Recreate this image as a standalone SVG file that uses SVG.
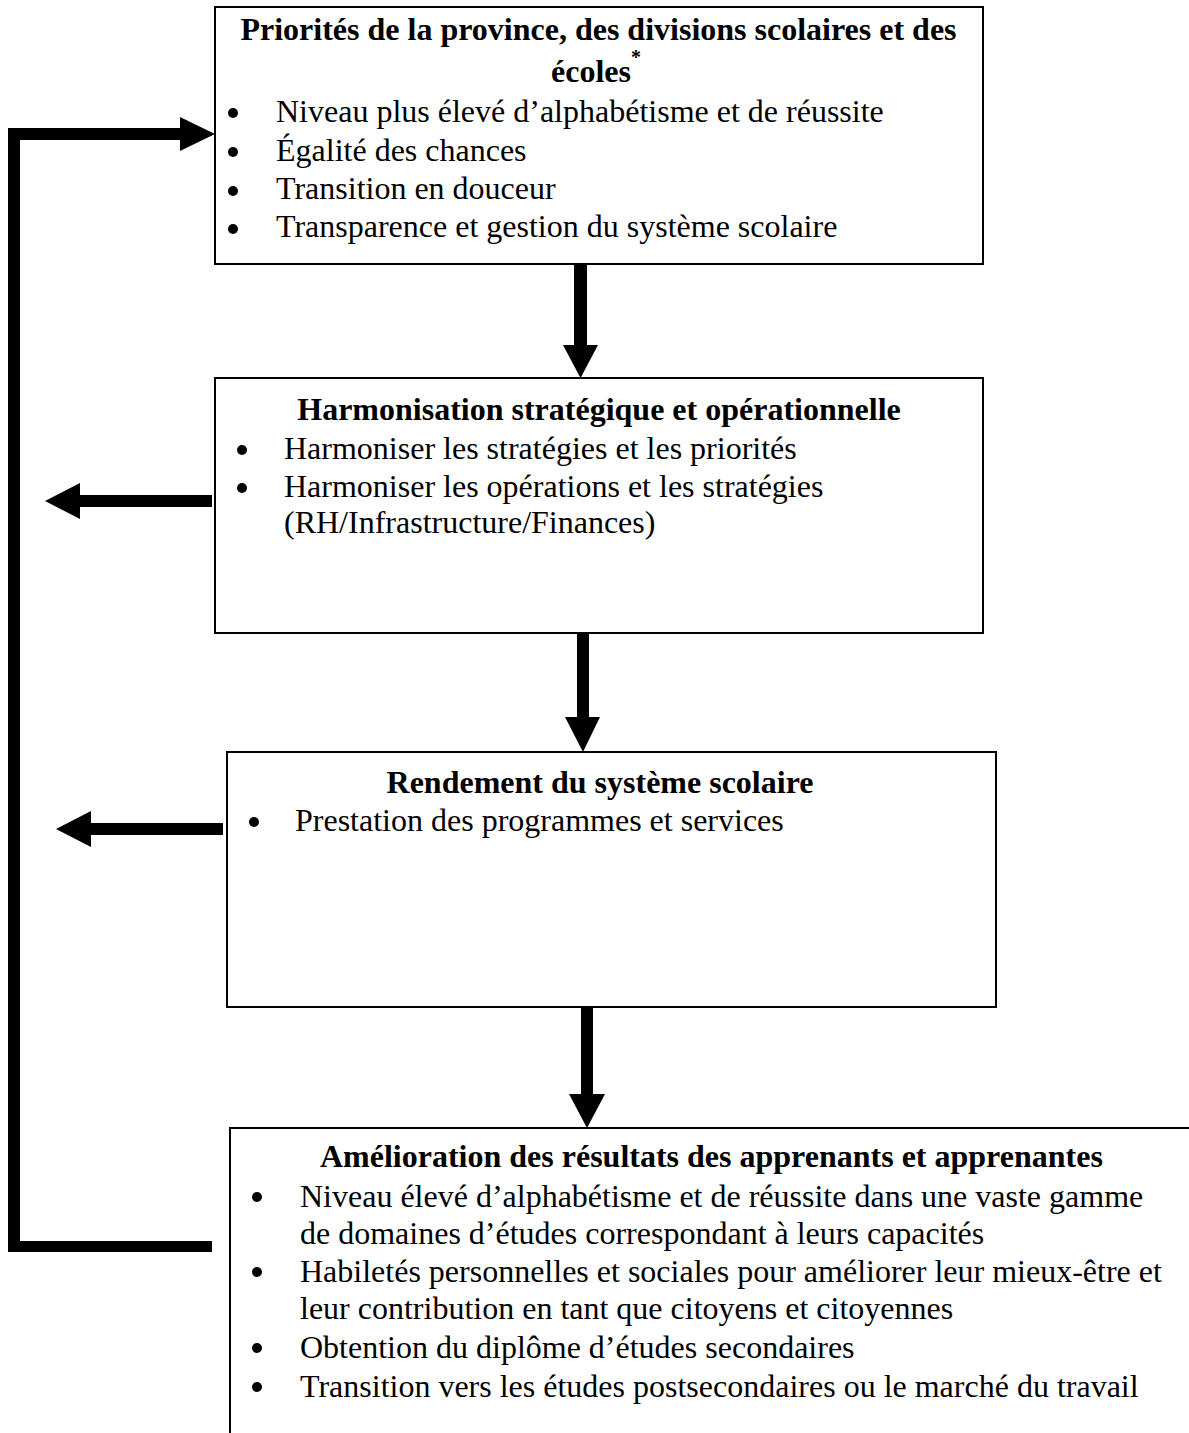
<svg xmlns="http://www.w3.org/2000/svg" width="1189" height="1433" viewBox="0 0 1189 1433">
<style>
.box{fill:#fff;stroke:#000;stroke-width:2}
.t{font-family:"Liberation Serif","Times New Roman",serif;font-size:32px;fill:#000}
.b{font-weight:bold;text-anchor:middle}
.bl{font-weight:bold}
.dot{fill:#000}
.arr{fill:#000}
</style>
<rect width="1189" height="1433" fill="#fff"/>
<g id="connectors">
<path class="arr" d="M574,264 H587 V345 H598 L580.5,378 L563,345 H574 Z"/>
<path class="arr" d="M577,633 H589 V717 H600 L583,752 L565,717 H577 Z"/>
<path class="arr" d="M581,1007 H593 V1094 H605 L587,1128 L569,1094 H581 Z"/>
<path class="arr" d="M212,495 V507 H80 V519 L45,501 L80,483 V495 Z"/>
<path class="arr" d="M223,823 V835 H91 V847 L56,829 L91,811 V823 Z"/>
<path class="arr" d="M8,1252 V128 H180 V117 L215,134 L180,151 V140 H20 V1241 H212 V1252 Z"/>
</g>
<g id="node1">
<rect class="box" x="215" y="7" width="768" height="257"/>
<text class="t b" x="598.5" y="40">Priorités de la province, des divisions scolaires et des</text>
<text class="t bl" x="551" y="82">écoles<tspan font-size="20" dy="-18">*</tspan></text>
<circle class="dot" cx="233" cy="113" r="5"/>
<circle class="dot" cx="233" cy="152" r="5"/>
<circle class="dot" cx="233" cy="191" r="5"/>
<circle class="dot" cx="233" cy="229" r="5"/>
<text class="t" x="276" y="122">Niveau plus élevé d’alphabétisme et de réussite</text>
<text class="t" x="276" y="161">Égalité des chances</text>
<text class="t" x="276" y="199">Transition en douceur</text>
<text class="t" x="276" y="237">Transparence et gestion du système scolaire</text>
</g>
<g id="node2">
<rect class="box" x="215" y="378" width="768" height="255"/>
<text class="t b" x="599" y="420">Harmonisation stratégique et opérationnelle</text>
<circle class="dot" cx="242" cy="450" r="5"/>
<circle class="dot" cx="242" cy="488" r="5"/>
<text class="t" x="284" y="459">Harmoniser les stratégies et les priorités</text>
<text class="t" x="284" y="497">Harmoniser les opérations et les stratégies</text>
<text class="t" x="284" y="533">(RH/Infrastructure/Finances)</text>
</g>
<g id="node3">
<rect class="box" x="227" y="752" width="769" height="255"/>
<text class="t b" x="600" y="793">Rendement du système scolaire</text>
<circle class="dot" cx="254" cy="822" r="5"/>
<text class="t" x="295" y="831">Prestation des programmes et services</text>
</g>
<g id="node4">
<path class="box" d="M1195,1128 H230 V1440" fill="none"/>
<text class="t bl" x="320" y="1167">Amélioration des résultats des apprenants et apprenantes</text>
<circle class="dot" cx="257" cy="1197" r="5"/>
<circle class="dot" cx="257" cy="1272" r="5"/>
<circle class="dot" cx="257" cy="1348" r="5"/>
<circle class="dot" cx="257" cy="1387" r="5"/>
<text class="t" x="300" y="1207">Niveau élevé d’alphabétisme et de réussite dans une vaste gamme</text>
<text class="t" x="300" y="1244">de domaines d’études correspondant à leurs capacités</text>
<text class="t" x="300" y="1282">Habiletés personnelles et sociales pour améliorer leur mieux-être et</text>
<text class="t" x="300" y="1319">leur contribution en tant que citoyens et citoyennes</text>
<text class="t" x="300" y="1358">Obtention du diplôme d’études secondaires</text>
<text class="t" x="300" y="1397">Transition vers les études postsecondaires ou le marché du travail</text>
</g>
</svg>
